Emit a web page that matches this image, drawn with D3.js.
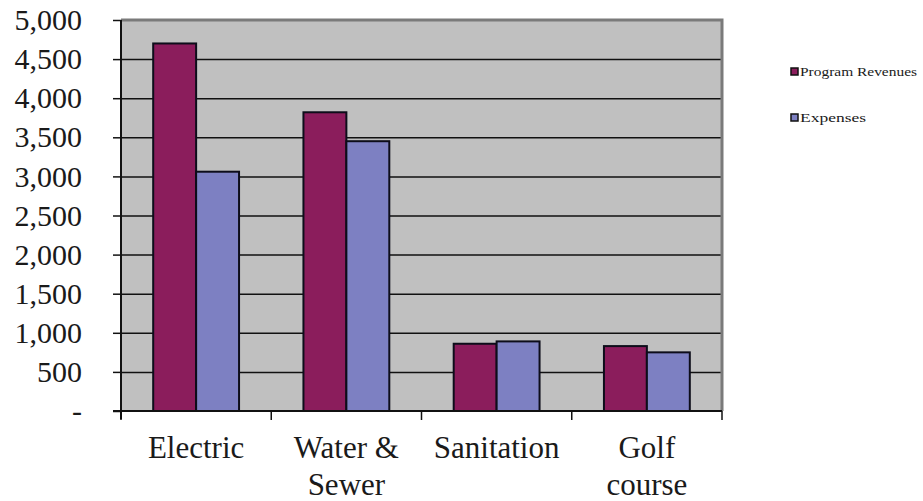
<!DOCTYPE html>
<html>
<head>
<meta charset="utf-8">
<script src="https://cdn.jsdelivr.net/npm/d3@7"></script>
<style>
  html, body { margin: 0; padding: 0; background: #ffffff; }
  svg { display: block; }
</style>
</head>
<body>
<svg id="chart" width="923" height="501"></svg>
<script>
// Business-type activities: program revenues vs. expenses (thousands)
const categories = [["Electric"], ["Water &", "Sewer"], ["Sanitation"], ["Golf", "course"]];
const seriesNames = ["Program Revenues", "Expenses"];
const programRevenues = [4700, 3820, 860, 830];
const expenses = [3060, 3450, 890, 750];
const yTicks = [0, 500, 1000, 1500, 2000, 2500, 3000, 3500, 4000, 4500, 5000];
const seriesColors = ["#8b1d5c", "#7d80c2"];

const serif = "Liberation Serif";
const ink = "#1a1a1a";

const svg = d3.select("#chart");
const plot = { left: 121, top: 20, right: 722, bottom: 411 };
const W = plot.right - plot.left, H = plot.bottom - plot.top;

const catKeys = categories.map(c => c.join(" "));
const x0 = d3.scaleBand().domain(catKeys).range([plot.left, plot.right]).padding(0);
const x1 = d3.scaleBand().domain(seriesNames).range([0, x0.bandwidth()])
  .paddingInner(0).paddingOuter(0.75);
const y = d3.scaleLinear().domain([0, 5000]).range([plot.bottom, plot.top]);

// plot background
svg.append("rect")
  .attr("x", plot.left).attr("y", plot.top)
  .attr("width", W).attr("height", H)
  .attr("fill", "#c0c0c0");

// horizontal gridlines
svg.append("g")
  .attr("transform", `translate(${plot.left},0)`)
  .call(d3.axisLeft(y).tickValues(yTicks.slice(1, -1)).tickSize(-W).tickFormat(""))
  .call(g => g.select(".domain").remove())
  .call(g => g.selectAll("line").attr("stroke", "#111").attr("stroke-width", 1.5));

// frame: grey top and right edges
svg.append("path")
  .attr("d", `M${plot.left},${plot.top}H${plot.right}V${plot.bottom}`)
  .attr("fill", "none").attr("stroke", "#7a7a7a").attr("stroke-width", 3);

// bars
const rows = catKeys.map((k, i) => ({ key: k, values: [programRevenues[i], expenses[i]] }));
svg.append("g").selectAll("g")
  .data(rows).join("g")
  .attr("transform", d => `translate(${x0(d.key)},0)`)
  .selectAll("rect")
  .data(d => d.values.map((v, j) => ({ name: seriesNames[j], value: v, j })))
  .join("rect")
  .attr("x", d => x1(d.name))
  .attr("y", d => y(d.value))
  .attr("width", x1.bandwidth())
  .attr("height", d => y(0) - y(d.value))
  .attr("fill", d => seriesColors[d.j])
  .attr("stroke", "#0d0d1a").attr("stroke-width", 2);

// y axis
svg.append("g")
  .attr("transform", `translate(${plot.left},0)`)
  .call(d3.axisLeft(y).tickValues(yTicks).tickSize(8).tickPadding(31)
    .tickFormat(d => d === 0 ? "-" : d3.format(",")(d)))
  .attr("font-family", serif)
  .attr("font-size", 30)
  .call(g => g.select(".domain").attr("stroke", "#111").attr("stroke-width", 2)
    .attr("d", `M0,${plot.bottom + 8}V${plot.top}`))
  .call(g => g.selectAll(".tick line").attr("stroke", "#111").attr("stroke-width", 1.5))
  .call(g => g.selectAll(".tick text")
    .attr("font-family", serif).attr("font-size", 30).attr("fill", ink));

// x axis with ticks at category boundaries
const xAxis = svg.append("g").attr("transform", `translate(0,${plot.bottom})`);
xAxis.append("line")
  .attr("x1", plot.left - 8).attr("x2", plot.right)
  .attr("stroke", "#111").attr("stroke-width", 2);
const bounds = catKeys.map(k => x0(k)).concat([plot.right]);
xAxis.selectAll("line.tk").data(bounds).join("line")
  .attr("class", "tk")
  .attr("x1", d => d).attr("x2", d => d)
  .attr("y1", 0).attr("y2", 9)
  .attr("stroke", "#111").attr("stroke-width", 1.5);

// category labels
const lab = svg.append("g");
categories.forEach((lines, i) => {
  const cx = x0(catKeys[i]) + x0.bandwidth() / 2;
  const t = lab.append("text")
    .attr("x", cx).attr("y", 458)
    .attr("text-anchor", "middle")
    .attr("font-family", serif)
    .attr("font-size", 31)
    .attr("fill", ink);
  lines.forEach((ln, j) => {
    t.append("tspan").attr("x", cx).attr("dy", j === 0 ? 0 : 37).text(ln);
  });
});

// legend
const legend = svg.append("g");
seriesNames.forEach((name, i) => {
  const ly = 72 + i * 46;
  legend.append("rect")
    .attr("x", 791).attr("y", ly - 4)
    .attr("width", 7).attr("height", 7)
    .attr("fill", seriesColors[i])
    .attr("stroke", "#111").attr("stroke-width", 1.5);
  legend.append("text")
    .attr("x", 800).attr("y", ly + 4)
    .attr("font-family", serif)
    .attr("font-size", 12)
    .attr("fill", ink)
    .attr("textLength", i === 0 ? 117 : 66)
    .attr("lengthAdjust", "spacingAndGlyphs")
    .text(name);
});
</script>
</body>
</html>
